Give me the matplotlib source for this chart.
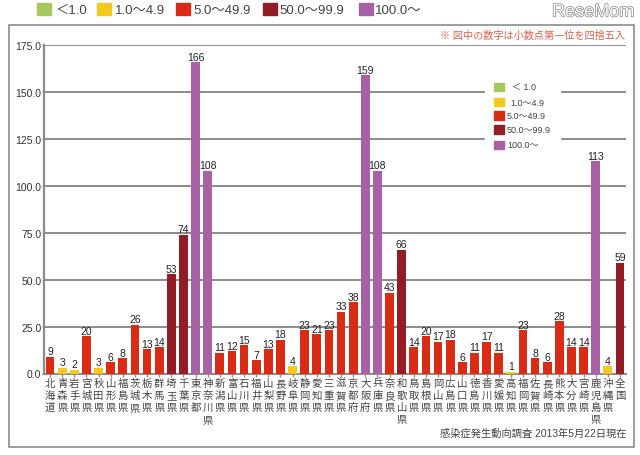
import matplotlib
matplotlib.use('Agg')
import matplotlib.pyplot as plt
import matplotlib.patheffects as pe
from matplotlib.patches import Rectangle

plt.rcParams['font.family'] = ['Liberation Sans', 'Noto Sans CJK JP', 'DejaVu Sans']

prefectures = ['北海道', '青森県', '岩手県', '宮城県', '秋田県', '山形県', '福島県', '茨城県',
               '栃木県', '群馬県', '埼玉県', '千葉県', '東京都', '神奈川県', '新潟県', '富山県',
               '石川県', '福井県', '山梨県', '長野県', '岐阜県', '静岡県', '愛知県', '三重県',
               '滋賀県', '京都府', '大阪府', '兵庫県', '奈良県', '和歌山県', '鳥取県', '島根県',
               '岡山県', '広島県', '山口県', '徳島県', '香川県', '愛媛県', '高知県', '福岡県',
               '佐賀県', '長崎県', '熊本県', '大分県', '宮崎県', '鹿児島県', '沖縄県', '全国']
values = [9, 3, 2, 20, 3, 6, 8, 26, 13, 14, 53, 74, 166, 108, 11, 12,
          15, 7, 13, 18, 4, 23, 21, 23, 33, 38, 159, 108, 43, 66, 14, 20,
          17, 18, 6, 11, 17, 11, 1, 23, 8, 6, 28, 14, 14, 113, 4, 59]
yticks = [0, 25, 50, 75, 100, 125, 150, 175]
legend_labels = ['＜ 1.0', '1.0～4.9', '5.0～49.9', '50.0～99.9', '100.0～']
legend_colors = ['#a5c95c', '#f2c91c', '#da2c14', '#931c25', '#a961a6']
GRAY = '#8c8c8c'
W, H = 640, 456


def bar_color(v):
    if v < 1:
        return legend_colors[0]
    if v < 5:
        return legend_colors[1]
    if v < 50:
        return legend_colors[2]
    if v < 100:
        return legend_colors[3]
    return legend_colors[4]


def fx(x):
    return x / W


def fy(y):
    return 1 - y / H


fig = plt.figure(figsize=(6.4, 4.56), dpi=100)

# outer frame
fig.add_artist(Rectangle((fx(9), fy(448)), 625 / W, 422 / H, fill=False,
                         edgecolor=GRAY, linewidth=1.2, transform=fig.transFigure))

ax = fig.add_axes([fx(44), fy(374.5), 582 / W, (374.5 - 46) / H])
xs = list(range(len(values)))
ax.bar(xs, values, width=0.72, color=[bar_color(v) for v in values], zorder=3)
for x, v in zip(xs, values):
    ax.text(x, v + 0.2, str(v), ha='center', va='bottom', fontsize=7.5, color='#222222', zorder=4)

ax.set_xlim(-0.5, len(values) - 0.5)
ax.set_ylim(0, 175)
ax.set_yticks(yticks)
ax.set_yticklabels([f'{t:.1f}' for t in yticks], fontsize=7.5, color='#333333')
ax.yaxis.grid(True, color=GRAY, linewidth=1.4, zorder=0)
ax.set_axisbelow(True)
ax.set_xticks(xs)
ax.set_xticklabels([])
ax.tick_params(axis='x', length=2, color=GRAY, width=1)
ax.tick_params(axis='y', length=1.5, color=GRAY, width=1, pad=0.5)
for s in ['top', 'right']:
    ax.spines[s].set_visible(False)
ax.spines['left'].set_color(GRAY)
ax.spines['left'].set_linewidth(1.6)
ax.spines['bottom'].set_color(GRAY)
ax.spines['bottom'].set_linewidth(1.4)

# vertical prefecture labels, one character per line
for x, name in zip(xs, prefectures):
    ax.annotate('\n'.join(name), xy=(x, 0), xycoords=('data', 'axes fraction'), xytext=(0, -3),
                textcoords='offset points', ha='center', va='top', fontsize=7.5,
                linespacing=1.28, color='#444444')

# top legend
top_x = [37, 97, 176, 263, 359]
text_x = [56, 115, 193, 279, 375]
top_texts = ['＜1.0', '1.0～4.9', '5.0～49.9', '50.0～99.9', '100.0～']
for bx, tx, lab, col in zip(top_x, text_x, top_texts, legend_colors):
    fig.add_artist(Rectangle((fx(bx), fy(16)), 14 / W, 12 / H, color=col, transform=fig.transFigure))
    fig.text(fx(tx), fy(11), lab, fontsize=9.5, va='center', color='#444444')

# inner legend, white box cuts the grid lines
fig.add_artist(Rectangle((fx(485), fy(155)), 75 / W, 75 / H, color='white',
                         transform=fig.transFigure, zorder=5))
inner_y = [88, 102.5, 116.5, 130.5, 145.5]
inner_tx = [512, 510, 507, 507, 507]
for y, tx, lab, col in zip(inner_y, inner_tx, legend_labels, legend_colors):
    fig.add_artist(Rectangle((fx(494), fy(y + 4)), 10 / W, 8 / H, color=col,
                             transform=fig.transFigure, zorder=6))
    fig.text(fx(tx), fy(y + 0.5), lab, fontsize=6.5, va='center', color='#444444', zorder=6)

fig.text(fx(625), fy(36), '※ 図中の数字は小数点第一位を四捨五入', fontsize=7.3, color='#e0604a',
         ha='right', va='center')
fig.text(fx(627), fy(434), '感染症発生動向調査 2013年5月22日現在', fontsize=7.4, color='#444444',
         ha='right', va='center')
fig.text(fx(634), fy(13), 'ReseMom', fontsize=13, color='white', ha='right', va='center',
         path_effects=[pe.withStroke(linewidth=0.9, foreground='#777777')])

fig.savefig('out.png', dpi=100)
